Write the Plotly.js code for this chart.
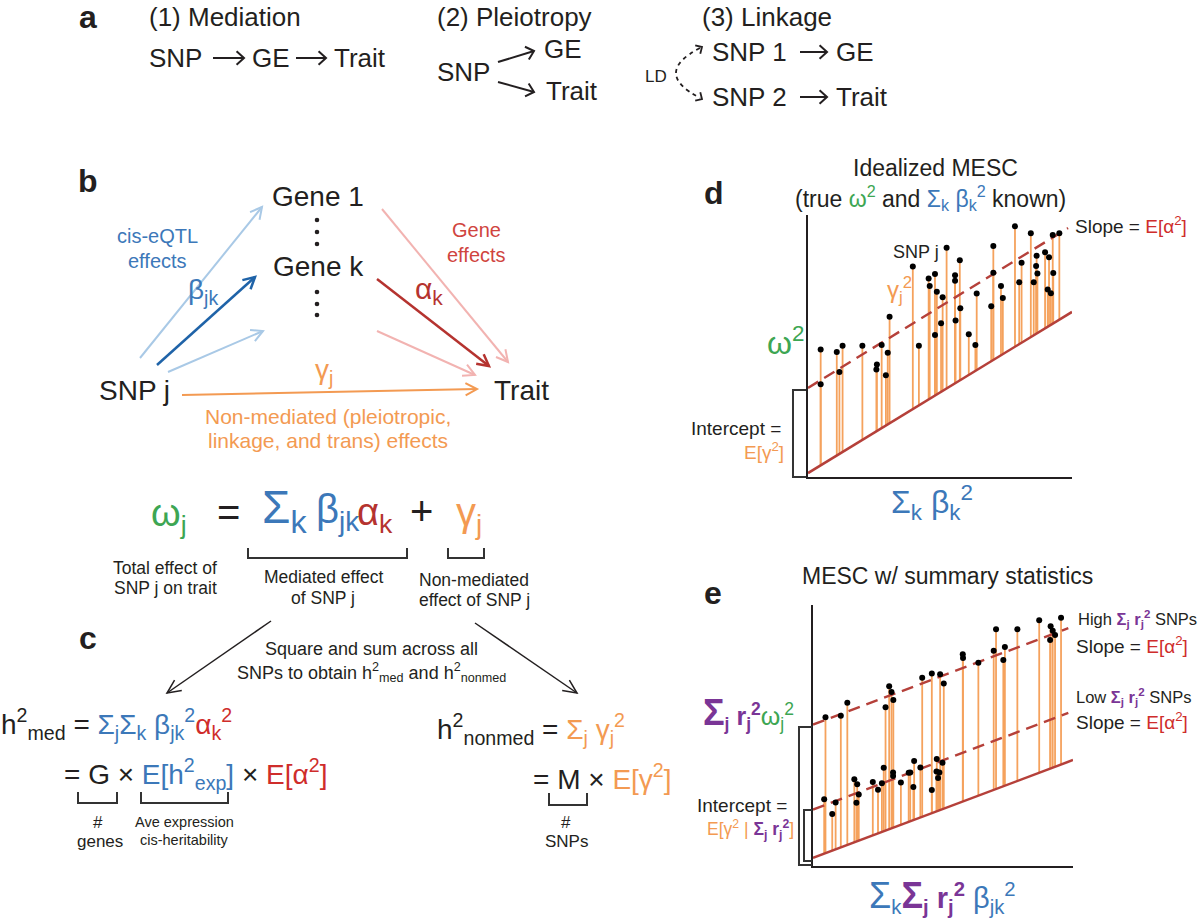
<!DOCTYPE html>
<html><head><meta charset="utf-8">
<script src="https://cdn.plot.ly/plotly-3.0.1.min.js"></script>
<style>html,body{margin:0;padding:0;background:#fff;}#chart{width:1200px;height:922px;}</style>
</head><body><div id="chart"></div>
<script>
// ---------------- data ----------------
// panel d : idealized MESC  (x = sum_k beta_k^2, y = omega^2), arbitrary units 0-100
const dX = [4.8,4.8,10.9,11.9,13.1,20.6,26.1,25.9,27.9,30.2,29.5,30.9,39.7,42.0,45.7,46.1,48.1,48.8,48.1,50.4,51.0,52.5,55.7,55.7,55.9,57.5,57.7,60.9,63.4,63.9,69.4,70.2,70.2,73.1,73.8,78.4,80.0,80.9,84.4,85.5,86.6,86.4,86.9,89.8,91.3,90.8,92.0,92.9,92.7,95.2];
const dY = [48.7,35.4,47.7,40.1,50.1,50.1,42.9,41.0,50.4,47.4,38.8,61.2,80.3,50.1,75.8,72.9,77.5,70.7,54.2,58.7,68.6,87.5,77.0,74.9,59.7,82.7,64.4,54.5,50.4,70.0,65.2,88.2,78.0,72.9,68.3,95.7,74.3,81.8,93.0,74.3,84.4,80.5,77.7,85.8,83.9,71.6,70.1,77.9,92.4,93.0];
const dLineX = [0,100], dSolidY = [1.5,63.0];
const dDashX = [0,98.5], dDashY = [34.0,95.0];

// panel e : MESC with summary statistics
const eHighX = [4.8,10.7,13.2,27.9,29.3,30.2,30.9,42.0,45.7,48.9,50.3,57.6,57.7,63.6,69.5,70.4,73.2,73.8,78.6,87.0,91.2,91.4,92.2,93.1,95.4];
const eHighY = [57.0,57.6,62.5,60.8,68.9,66.7,63.6,72.1,73.8,73.5,69.9,81.1,79.7,77.9,82.5,90.7,78.9,83.9,90.7,94.2,86.6,91.9,90.1,88.5,95.1];
const eLowX = [4.3,7.4,8.7,15.9,17.0,17.6,16.7,23.0,25.0,26.5,27.2,30.8,30.8,33.8,36.8,37.4,38.6,38.9,41.3,45.7,47.6,47.5,48.6,48.1,49.8];
const eLowY = [25.6,19.9,24.3,33.2,31.3,27.4,24.2,32.2,29.2,31.7,37.6,35.8,34.5,32.0,35.7,35.8,30.3,40.2,37.7,29.1,41.0,36.2,35.8,33.7,39.6];
const eLineX = [0,100], eSolidY = [3.1,40.6];
const eDashX = [0,98.2], eHighDashY = [54.2,91.1], eLowDashY = [21.6,58.7];

// ---------------- styling ----------------
const W = 1200, H = 922;
const F = '"Liberation Sans", Arial, Helvetica, sans-serif';
const BLACK = '#231F20', BLUE = '#3C78B9', DBLUE = '#1F63A8', LBLUE = '#A9C9E6';
const RED = '#D0443E', DRED = '#B5332F', RED2 = '#CF2D2B', PINK = '#F2B3B1';
const ORANGE = '#F39A52', GREEN = '#3DA653', PURPLE = '#7A3596';
const LINE = '#B5403A', STEM = '#F5A25D';

function lineAt(xs, ys, x) { return ys[0] + (ys[1] - ys[0]) * (x - xs[0]) / (xs[1] - xs[0]); }
function stems(xs, ys, lx, ly) {
  const X = [], Y = [];
  xs.forEach((x, i) => { X.push(x, x, null); Y.push(lineAt(lx, ly, x), ys[i], null); });
  return {X, Y};
}
const sd = stems(dX, dY, dLineX, dSolidY);
const seH = stems(eHighX, eHighY, eLineX, eSolidY);
const seL = stems(eLowX, eLowY, eLineX, eSolidY);
const DASH = '12px,7px';

const traces = [
  {x: sd.X, y: sd.Y, mode: 'lines', line: {color: STEM, width: 1.8}, xaxis: 'x', yaxis: 'y', hoverinfo: 'skip'},
  {x: dLineX, y: dSolidY, mode: 'lines', line: {color: LINE, width: 2.5}, xaxis: 'x', yaxis: 'y'},
  {x: dDashX, y: dDashY, mode: 'lines', line: {color: LINE, width: 2.4, dash: DASH}, xaxis: 'x', yaxis: 'y'},
  {x: dX, y: dY, mode: 'markers', marker: {color: '#000', size: 6}, cliponaxis: false, xaxis: 'x', yaxis: 'y'},
  {x: seH.X, y: seH.Y, mode: 'lines', line: {color: STEM, width: 1.8}, xaxis: 'x2', yaxis: 'y2'},
  {x: seL.X, y: seL.Y, mode: 'lines', line: {color: STEM, width: 1.8}, xaxis: 'x2', yaxis: 'y2'},
  {x: eLineX, y: eSolidY, mode: 'lines', line: {color: LINE, width: 2.5}, xaxis: 'x2', yaxis: 'y2'},
  {x: eDashX, y: eHighDashY, mode: 'lines', line: {color: LINE, width: 2.4, dash: DASH}, xaxis: 'x2', yaxis: 'y2'},
  {x: eDashX, y: eLowDashY, mode: 'lines', line: {color: LINE, width: 2.4, dash: DASH}, xaxis: 'x2', yaxis: 'y2'},
  {x: eHighX, y: eHighY, mode: 'markers', marker: {color: '#000', size: 6}, cliponaxis: false, xaxis: 'x2', yaxis: 'y2'},
  {x: eLowX, y: eLowY, mode: 'markers', marker: {color: '#000', size: 6}, cliponaxis: false, xaxis: 'x2', yaxis: 'y2'}
];

// ---------------- annotation / shape helpers (page pixel -> paper) ----------------
const ann = [], shp = [];
function T(x, y, text, size, color, anchor, extra) {
  ann.push(Object.assign({xref: 'paper', yref: 'paper', x: x / W, y: 1 - y / H, text: text, showarrow: false,
    xanchor: anchor || 'left', yanchor: 'middle', borderpad: 0,
    font: {family: F, size: size, color: color || BLACK}}, extra || {}));
}
function P(x, y) { return (x / W).toFixed(5) + ',' + (1 - y / H).toFixed(5); }
function path(d, color, w, dash) {
  shp.push({type: 'path', xref: 'paper', yref: 'paper', path: d, line: {color: color, width: w, dash: dash || 'solid'}, fillcolor: 'rgba(0,0,0,0)'});
}
function head(x2, y2, ux, uy, color, w, len, angDeg) {
  const a = angDeg * Math.PI / 180, c = Math.cos(a), s = Math.sin(a);
  const ax = -ux * c + uy * s, ay = -ux * s - uy * c;
  const bx = -ux * c - uy * s, by = ux * s - uy * c;
  path('M' + P(x2 + len * ax, y2 + len * ay) + 'L' + P(x2, y2) + 'L' + P(x2 + len * bx, y2 + len * by), color, w);
}
function arrow(x1, y1, x2, y2, color, w, len, ang) {
  const dx = x2 - x1, dy = y2 - y1, L = Math.hypot(dx, dy);
  path('M' + P(x1, y1) + 'L' + P(x2, y2), color, w);
  head(x2, y2, dx / L, dy / L, color, w, len || 10, ang || 30);
}
function bracket(x1, x2, yt, yb) { path('M' + P(x1, yt) + 'L' + P(x1, yb) + 'L' + P(x2, yb) + 'L' + P(x2, yt), '#333', 2); }
function dot(x, y, r) {
  shp.push({type: 'circle', xref: 'paper', yref: 'paper', x0: (x - r) / W, x1: (x + r) / W, y0: 1 - (y + r) / H, y1: 1 - (y - r) / H,
    line: {width: 0}, fillcolor: BLACK});
}
const sp = (c, t) => '<span style="color:' + c + '">' + t + '</span>';

// ---------------- panel a ----------------
T(88, 17, '<b>a</b>', 32, BLACK, 'center');
T(148, 17, '(1) Mediation', 26);
T(148, 58, 'SNP', 26); arrow(213, 58, 244, 58, BLACK, 2, 10, 42);
T(251, 58, 'GE', 26); arrow(296, 58, 326, 58, BLACK, 2, 10, 42);
T(333, 58, 'Trait', 26);
T(436, 17, '(2) Pleiotropy', 26);
T(436, 72, 'SNP', 26);
arrow(498, 62, 534, 51, BLACK, 2, 10, 42); arrow(498, 82, 534, 92, BLACK, 2, 10, 42);
T(543, 49, 'GE', 26); T(545, 91, 'Trait', 26);
T(701, 17, '(3) Linkage', 26);
T(711, 52, 'SNP 1', 26); arrow(800, 52, 827, 52, BLACK, 2, 10, 42); T(835, 52, 'GE', 26);
T(711, 97, 'SNP 2', 26); arrow(800, 97, 827, 97, BLACK, 2, 10, 42); T(835, 97, 'Trait', 26);
T(656, 77, 'LD', 17, BLACK, 'center');
path('M' + P(700, 48) + 'Q' + P(652, 73) + ' ' + P(700, 98), BLACK, 1.8, '4px,4px');
head(702, 47, 0.86, -0.51, BLACK, 1.8, 7, 45);
head(702, 99, 0.86, 0.51, BLACK, 1.8, 7, 45);

// ---------------- panel b ----------------
T(88, 181, '<b>b</b>', 32, BLACK, 'center');
T(318, 196, 'Gene 1', 28, BLACK, 'center');
T(318, 267, 'Gene k', 28, BLACK, 'center');
[220, 232, 244, 292, 304, 315].forEach(y => dot(317, y, 2.3));
T(98, 390, 'SNP j', 28);
T(493, 390, 'Trait', 28);
T(157, 236, 'cis-eQTL', 20, BLUE, 'center');
T(157, 261, 'effects', 20, BLUE, 'center');
T(476, 230, 'Gene', 20, RED, 'center');
T(476, 255, 'effects', 20, RED, 'center');
arrow(140, 358, 262, 207, LBLUE, 2, 13, 28);
arrow(157, 365, 255, 277, DBLUE, 2.5, 13, 28);
arrow(168, 372, 263, 331, LBLUE, 2, 13, 28);
arrow(382, 209, 508, 362, PINK, 2, 13, 28);
arrow(377, 279, 489, 366, DRED, 2.5, 13, 28);
arrow(377, 331, 475, 375, PINK, 2, 13, 28);
arrow(182, 395, 477, 389, ORANGE, 2, 13, 28);
T(187, 292, 'β<sub>jk</sub>', 28, BLUE);
T(414, 291, 'α<sub>k</sub>', 30, DRED);
T(314, 372, 'γ<sub>j</sub>', 28, ORANGE);
T(328, 417, 'Non-mediated (pleiotropic,', 21, ORANGE, 'center');
T(328, 441, 'linkage, and trans) effects', 21, ORANGE, 'center');

// equation
T(150, 516, 'ω<sub>j</sub>', 38, GREEN);
T(216, 512, '=', 40);
T(261, 510, 'Σ<sub>k</sub>', 46, BLUE);
T(315, 512, 'β<sub>jk</sub>', 40, BLUE);
T(356, 515, 'α<sub>k</sub>', 38, DRED);
T(409, 511, '+', 40);
T(455, 515, 'γ<sub>j</sub>', 40, ORANGE);
bracket(248, 407, 548, 558);
bracket(448, 484, 548, 558);
T(165, 568, 'Total effect of', 17.5, BLACK, 'center');
T(165, 588, 'SNP j on trait', 17.5, BLACK, 'center');
T(323, 577, 'Mediated effect', 17.5, BLACK, 'center');
T(323, 598, 'of SNP j', 17.5, BLACK, 'center');
T(474, 580, 'Non-mediated', 17.5, BLACK, 'center');
T(474, 600, 'effect of SNP j', 17.5, BLACK, 'center');

// ---------------- panel c ----------------
T(88, 638, '<b>c</b>', 32, BLACK, 'center');
arrow(271, 621, 167, 693, BLACK, 1.5, 15, 25);
arrow(475, 623, 577, 693, BLACK, 1.5, 15, 25);
T(371, 649, 'Square and sum across all', 18, BLACK, 'center');
T(371, 672, 'SNPs to obtain h<sup>2</sup><sub>med</sub> and h<sup>2</sup><sub>nonmed</sub>', 18, BLACK, 'center');
T(0, 724, 'h<sup>2</sup><sub>med</sub> = ' + sp(BLUE, 'Σ<sub>j</sub>Σ<sub>k</sub> β<sub>jk</sub><sup>2</sup>') + sp(RED2, 'α<sub>k</sub><sup>2</sup>'), 28);
T(63, 774, '= G × ' + sp(BLUE, 'E[h<sup>2</sup><sub>exp</sub>]') + ' × ' + sp(RED2, 'E[α<sup>2</sup>]'), 28);
T(436, 729, 'h<sup>2</sup><sub>nonmed</sub> = ' + sp(ORANGE, 'Σ<sub>j</sub> γ<sub>j</sub><sup>2</sup>'), 28);
T(532, 777, '= M × ' + sp(ORANGE, 'E[γ<sup>2</sup>]'), 28);
bracket(78, 117, 792, 803);
bracket(141, 228, 792, 803);
bracket(549, 587, 793, 805);
T(98, 822, '#', 17, BLACK, 'center');
T(100, 841, 'genes', 17, BLACK, 'center');
T(184, 822, 'Ave expression', 14.5, BLACK, 'center');
T(184, 840, 'cis-heritability', 14.5, BLACK, 'center');
T(566, 822, '#', 17, BLACK, 'center');
T(566, 841, 'SNPs', 17, BLACK, 'center');

// ---------------- panel d ----------------
T(714, 193, '<b>d</b>', 32, BLACK, 'center');
T(935, 168, 'Idealized MESC', 23, BLACK, 'center');
T(930, 198, '(true ' + sp(GREEN, 'ω<sup>2</sup>') + ' and ' + sp(BLUE, 'Σ<sub>k</sub> β<sub>k</sub><sup>2</sup>') + ' known)', 23, BLACK, 'center');
T(892, 252, 'SNP j', 18);
T(886, 290, 'γ<sub>j</sub><sup>2</sup>', 24, ORANGE);
T(1074, 225, 'Slope = ' + sp(RED2, 'E[α<sup>2</sup>]'), 19);
T(766, 341, 'ω<sup>2</sup>', 32, GREEN);
path('M' + P(806, 390) + 'L' + P(793, 390) + 'L' + P(793, 477) + 'L' + P(806, 477), '#333', 2);
T(736, 428, 'Intercept =', 19, BLACK, 'center');
T(785, 451, 'E[γ<sup>2</sup>]', 19, ORANGE, 'right');
T(932, 503, 'Σ<sub>k</sub> β<sub>k</sub><sup>2</sup>', 32, BLUE, 'center');

// ---------------- panel e ----------------
T(713, 593, '<b>e</b>', 32, BLACK, 'center');
T(947, 576, 'MESC w/ summary statistics', 23, BLACK, 'center');
const SR = '<b>' + sp(PURPLE, 'Σ<sub>j</sub> r<sub>j</sub><sup>2</sup>') + '</b>';
T(1077, 619, 'High ' + SR + ' SNPs', 16.5);
T(1075, 645, 'Slope = ' + sp(RED2, 'E[α<sup>2</sup>]'), 19);
T(1075, 697, 'Low ' + SR + ' SNPs', 16.5);
T(1075, 721, 'Slope = ' + sp(RED2, 'E[α<sup>2</sup>]'), 19);
T(702, 713, '<b>' + sp(PURPLE, '<span style="font-size:36px">Σ</span><sub>j</sub> r<sub>j</sub><sup>2</sup>') + '</b>' + sp(GREEN, 'ω<sub>j</sub><sup>2</sup>'), 25);
path('M' + P(812, 727) + 'L' + P(799, 727) + 'L' + P(799, 865) + 'L' + P(812, 865), '#333', 2);
path('M' + P(812, 810) + 'L' + P(804, 810) + 'L' + P(804, 861) + 'L' + P(812, 861), '#333', 2);
T(742, 805, 'Intercept =', 19, BLACK, 'center');
T(750, 829, 'E[γ<sup>2</sup> | ' + SR + ']', 17.5, ORANGE, 'center');
T(942, 896, sp(BLUE, '<span style="font-size:36px">Σ</span><sub>k</sub>') + '<b>' + sp(PURPLE, '<span style="font-size:36px">Σ</span><sub>j</sub> r<sub>j</sub><sup>2</sup>') + '</b> ' + sp(BLUE, 'β<sub>jk</sub><sup>2</sup>'), 29, BLACK, 'center');

// ---------------- layout ----------------
function ax(dom, anchor) {
  return {domain: dom, anchor: anchor, range: [0, 100], showgrid: false, zeroline: false, showticklabels: false,
    ticks: '', showline: true, linecolor: BLACK, linewidth: 2, fixedrange: true};
}
const layout = {
  width: W, height: H, margin: {l: 0, r: 0, t: 0, b: 0},
  paper_bgcolor: '#fff', plot_bgcolor: 'rgba(0,0,0,0)', showlegend: false, hovermode: false,
  font: {family: F, color: BLACK},
  xaxis: ax([808 / W, 1072 / W], 'y'),
  yaxis: ax([1 - 477 / H, 1 - 215 / H], 'x'),
  xaxis2: ax([813 / W, 1073 / W], 'y2'),
  yaxis2: ax([1 - 866 / H, 1 - 605 / H], 'x2'),
  annotations: ann, shapes: shp
};
Plotly.newPlot('chart', traces, layout, {staticPlot: true, displayModeBar: false});
</script></body></html>
